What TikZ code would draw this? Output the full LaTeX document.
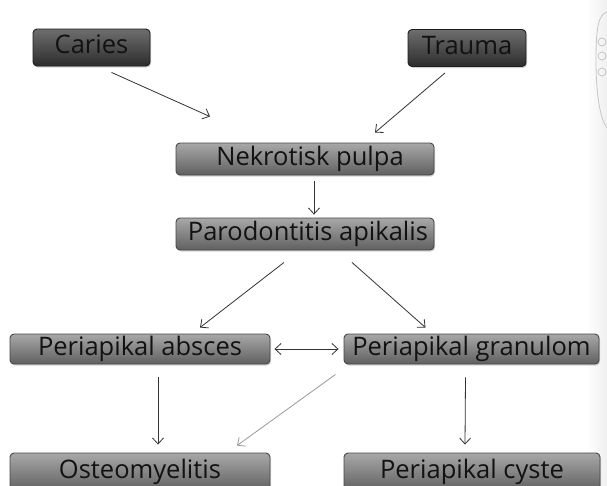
\documentclass[tikz,border=0pt]{standalone}
\usepackage{fontspec}
\setmainfont{Open Sans}
\usetikzlibrary{arrows.meta,shadows,calc}

\definecolor{txt}{HTML}{121212}
\definecolor{linec}{HTML}{333333}
\definecolor{gtop}{HTML}{A8A8A8}
\definecolor{gmid}{HTML}{858585}
\definecolor{gbot}{HTML}{606060}
\definecolor{gedge}{HTML}{474747}
\definecolor{dtop}{HTML}{6E6E6E}
\definecolor{dmid}{HTML}{424242}
\definecolor{dbot}{HTML}{2C2C2C}
\definecolor{dedge}{HTML}{1E1E1E}

\tikzset{
  box/.style={
    rounded corners=4pt, line width=0.9pt,
    inner sep=0pt, text=txt,
    font=\fontsize{25.5}{28}\selectfont,
    text height=1.2em, text depth=0pt,
    drop shadow={opacity=0.35, shadow xshift=1pt, shadow yshift=-1.5pt}
  },
  greybox/.style={box, draw=gedge,
    top color=gtop, middle color=gmid, bottom color=gbot},
  darkbox/.style={box, draw=dedge,
    top color=dtop, middle color=dmid, bottom color=dbot},
  arr/.style={draw=linec, line width=0.8pt, -{Straight Barb[length=6pt,width=11pt,line width=0.8pt]}},
  dblarr/.style={draw=linec, line width=0.8pt,
    {Straight Barb[length=6pt,width=11pt,line width=0.8pt]}-{Straight Barb[length=6pt,width=11pt,line width=0.8pt]}},
  lightarr/.style={arr, draw=gray!80}
}

\begin{document}
\begin{tikzpicture}[x=1pt,y=-1pt]
  \useasboundingbox (0,0) rectangle (607,485);
  \fill[white] (0,0) rectangle (607,485);

  % faint tooth drawing at the right margin
  \shade[left color=white, right color=gray!12] (586,0) rectangle (607,485);
  \draw[gray!45, line width=0.8pt] (607,12) .. controls (598,14) and (596,30) .. (596,60)
        .. controls (596,95) and (600,118) .. (607,128);
  \foreach \yy in {42,56,72}
    \draw[gray!50, line width=0.7pt] (602,\yy) circle (4pt);

  % boxes
  \node[darkbox, minimum width=117pt, minimum height=37pt] (caries) at (91.5,47.5) {Caries};
  \node[darkbox, minimum width=118pt, minimum height=37pt] (trauma) at (467,48) {Trauma};
  \node[greybox, minimum width=258pt, minimum height=32pt] (pulpa) at (305,159) {\hspace*{10pt}Nekrotisk pulpa};
  \node[greybox, minimum width=258pt, minimum height=32pt] (apik) at (305,234) {\hspace*{6pt}Parodontitis apikalis};
  \node[greybox, minimum width=260pt, minimum height=30pt] (absces) at (140,349) {Periapikal absces};
  \node[greybox, minimum width=255pt, minimum height=30pt] (granulom) at (471.5,349) {Periapikal granulom};
  \node[greybox, minimum width=260pt, minimum height=38pt] (osteo) at (140,472) {Osteomyelitis};
  \node[greybox, minimum width=256pt, minimum height=38pt] (cyste) at (472,472) {Periapikal cyste};

  % connectors
  \draw[arr] ([xshift=20pt,yshift=-6pt]caries.south) -- ([xshift=-95pt,yshift=26pt]pulpa.north);
  \draw[arr] ([xshift=-22pt,yshift=-6pt]trauma.south) -- ([xshift=70pt,yshift=10pt]pulpa.north);
  \draw[arr] ([xshift=9pt,yshift=-6pt]pulpa.south) -- ([xshift=9pt,yshift=3pt]apik.north);
  \draw[arr] ([xshift=-21pt,yshift=-12pt]apik.south) -- ([xshift=60pt,yshift=6pt]absces.north);
  \draw[arr] ([xshift=47pt,yshift=-12pt]apik.south) -- ([xshift=-46pt,yshift=6pt]granulom.north);
  \draw[dblarr] ([xshift=4pt]absces.east) -- ([xshift=-5pt]granulom.west);
  \draw[arr] ([xshift=18pt,yshift=-13pt]absces.south) -- ([xshift=18pt,yshift=8pt]osteo.north);
  \draw[lightarr] ([xshift=-136pt,yshift=-10pt]granulom.south) -- ([xshift=97pt,yshift=7pt]osteo.north);
  \draw[arr] ([xshift=-6pt,yshift=-13pt]granulom.south) -- ([xshift=-7pt,yshift=8pt]cyste.north);
\end{tikzpicture}
\end{document}
